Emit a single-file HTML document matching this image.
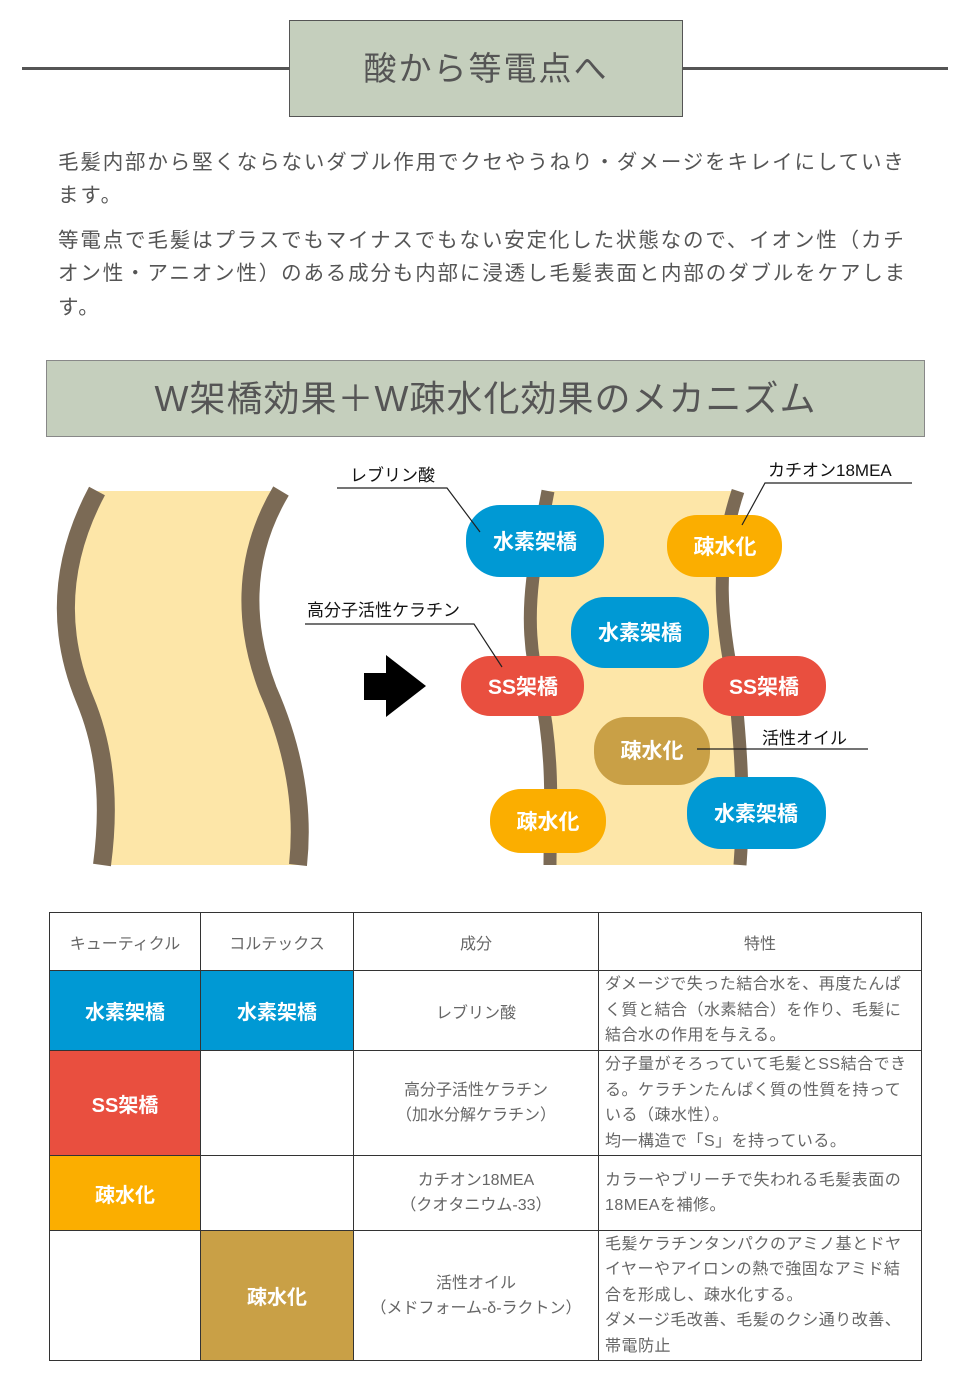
<!DOCTYPE html>
<html><head><meta charset="utf-8"><style>
*{margin:0;padding:0;box-sizing:border-box}
body{width:964px;height:1380px;background:#fff;position:relative;font-family:"Liberation Sans","Noto Sans CJK JP",sans-serif;color:#555;overflow:hidden}
.abs{position:absolute}
.p{position:absolute;left:58px;font-size:20.5px;letter-spacing:1.85px;white-space:nowrap;color:#555}
table{position:absolute;left:49px;top:912px;border-collapse:collapse;width:873px}
td{border:1px solid #333;text-align:center;font-size:16px;color:#666;padding:0}
td.d{text-align:left;padding:0 6px;line-height:25.5px;font-size:16px;letter-spacing:0.5px}
td.c{color:#fff;font-size:20px;font-weight:bold}
</style></head><body>
<div class="abs" style="left:22px;top:67px;width:926px;height:3px;background:#555"></div>
<div class="abs" style="left:289px;top:20px;width:394px;height:97px;background:#c5cfbd;border:1px solid #555;text-align:center;line-height:95px;font-size:33px;letter-spacing:2px">酸から等電点へ</div>
<div class="p" style="top:145px">毛髪内部から堅くならないダブル作用でクセやうねり・ダメージをキレイにしていき</div>
<div class="p" style="top:178px">ます。</div>
<div class="p" style="top:223px">等電点で毛髪はプラスでもマイナスでもない安定化した状態なので、イオン性（カチ</div>
<div class="p" style="top:256px">オン性・アニオン性）のある成分も内部に浸透し毛髪表面と内部のダブルをケアしま</div>
<div class="p" style="top:290px">す。</div>
<div class="abs" style="left:46px;top:360px;width:879px;height:77px;background:#c5cfbd;border:1px solid #888;text-align:center;line-height:75px;font-size:36px;letter-spacing:1px">W架橋効果＋W疎水化効果のメカニズム</div>

<svg class="abs" style="left:0;top:0" width="964" height="1380">
<path d="M97,491 C55,570 60,640 85,700 C110,760 108,820 102,865 L298,865 C305,800 290,740 268,690 C245,630 240,560 281,491 Z" fill="#fde6a8"/>
<path d="M97,491 C55,570 60,640 85,700 C110,760 108,820 102,865" fill="none" stroke="#7b6a55" stroke-width="18"/>
<path d="M281,491 C240,560 245,630 268,690 C290,740 305,800 298,865" fill="none" stroke="#7b6a55" stroke-width="18"/>
<path d="M548,491 C535,560 520,620 540,690 C555,760 550,820 550,865 L740,865 C745,800 740,740 735,690 C720,620 715,560 738,491 Z" fill="#fde6a8"/>
<path d="M548,491 C535,560 520,620 540,690 C555,760 550,820 550,865" fill="none" stroke="#7b6a55" stroke-width="13"/>
<path d="M738,491 C715,560 720,620 735,690 C740,740 745,800 740,865" fill="none" stroke="#7b6a55" stroke-width="13"/>
<rect x="364" y="673" width="24" height="27" fill="#000"/>
<polygon points="386,655 426,686 386,717" fill="#000"/>
<g font-family="Liberation Sans,Noto Sans CJK JP,sans-serif" font-size="21" fill="#fff" text-anchor="middle" font-weight="bold">
<rect x="466" y="505" width="138" height="72" rx="34" fill="#0099d4"/><text x="535" y="549">水素架橋</text>
<rect x="667" y="515" width="115" height="62" rx="30" fill="#fbae00"/><text x="725" y="554">疎水化</text>
<rect x="571" y="597" width="138" height="71" rx="34" fill="#0099d4"/><text x="640" y="640">水素架橋</text>
<rect x="461" y="656" width="123" height="60" rx="29" fill="#e94f3f"/><text x="523" y="694">SS架橋</text>
<rect x="703" y="656" width="123" height="60" rx="29" fill="#e94f3f"/><text x="764" y="694">SS架橋</text>
<rect x="594" y="717" width="116" height="68" rx="32" fill="#c9a046"/><text x="652" y="758">疎水化</text>
<rect x="490" y="789" width="116" height="64" rx="31" fill="#fbae00"/><text x="548" y="829">疎水化</text>
<rect x="687" y="777" width="139" height="72" rx="34" fill="#0099d4"/><text x="756" y="821">水素架橋</text>
</g>
<g stroke="#222" stroke-width="1.2" fill="none">
<path d="M337,488 H447 L480,532"/>
<path d="M912,483 H765 L742,525"/>
<path d="M305,624 H474 L502,667"/>
<path d="M868,749 H697"/>
</g>
<g font-family="Liberation Sans,Noto Sans CJK JP,sans-serif" font-size="17" fill="#111">
<text x="350" y="481">レブリン酸</text>
<text x="768" y="476">カチオン18MEA</text>
<text x="307" y="616">高分子活性ケラチン</text>
<text x="762" y="744">活性オイル</text>
</g>
</svg>

<table>
<tr style="height:58px"><td style="width:151px">キューティクル</td><td style="width:153px">コルテックス</td><td style="width:245px">成分</td><td>特性</td></tr>
<tr style="height:80px"><td class="c" style="background:#0099d4">水素架橋</td><td class="c" style="background:#0099d4">水素架橋</td><td>レブリン酸</td><td class="d">ダメージで失った結合水を、再度たんぱ<br>く質と結合（水素結合）を作り、毛髪に<br>結合水の作用を与える。</td></tr>
<tr style="height:105px"><td class="c" style="background:#e94f3f">SS架橋</td><td></td><td style="line-height:25px">高分子活性ケラチン<br>（加水分解ケラチン）</td><td class="d">分子量がそろっていて毛髪とSS結合でき<br>る。ケラチンたんぱく質の性質を持って<br>いる（疎水性）。<br>均一構造で「S」を持っている。</td></tr>
<tr style="height:75px"><td class="c" style="background:#fbae00">疎水化</td><td></td><td style="line-height:25px">カチオン18MEA<br>（クオタニウム-33）</td><td class="d">カラーやブリーチで失われる毛髪表面の<br>18MEAを補修。</td></tr>
<tr style="height:130px"><td></td><td class="c" style="background:#c9a046">疎水化</td><td style="line-height:25px">活性オイル<br>（メドフォーム-δ-ラクトン）</td><td class="d">毛髪ケラチンタンパクのアミノ基とドヤ<br>イヤーやアイロンの熱で強固なアミド結<br>合を形成し、疎水化する。<br>ダメージ毛改善、毛髪のクシ通り改善、<br>帯電防止</td></tr>
</table>
</body></html>
